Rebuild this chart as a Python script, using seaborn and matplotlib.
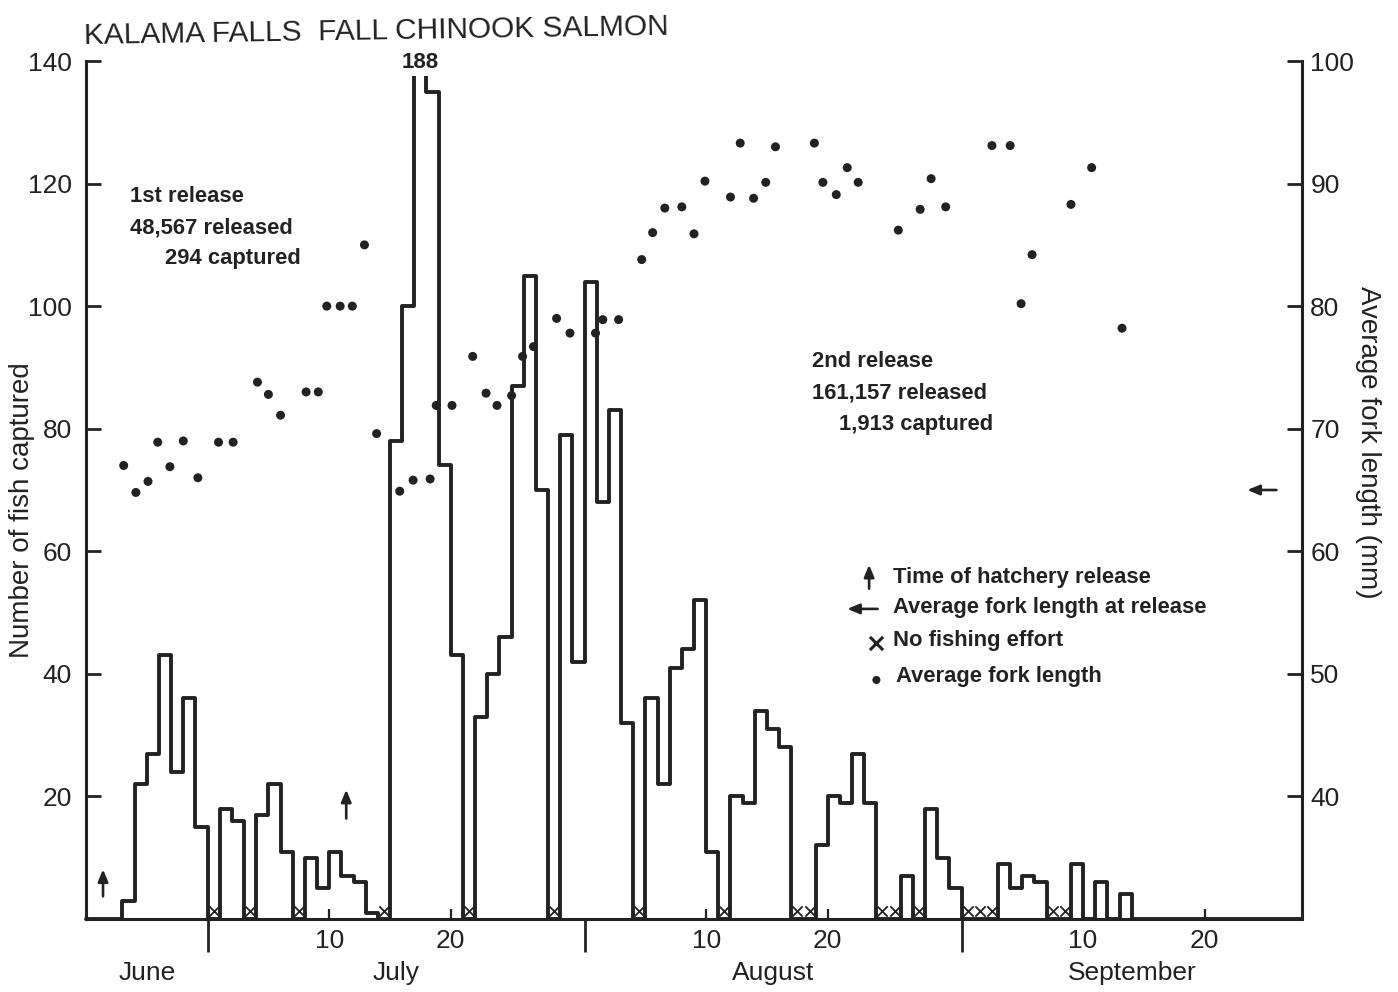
import numpy as np
import pandas as pd
import matplotlib
matplotlib.use("Agg")
import matplotlib.pyplot as plt
from matplotlib.patches import Rectangle
import seaborn as sns

# ---------------- data ----------------
# day numbering: June 1 = 1, July 1 = 31, August 1 = 62, September 1 = 93
catch_days = list(range(20, 120))
catch_counts = [0, 0, 0, 3, 22, 27, 43, 24, 36, 15,
                0, 18, 16, 0, 17, 22, 11, 0, 10, 5,
                11, 7, 6, 1, 0, 78, 100, 188, 135, 74,
                43, 0, 33, 40, 46, 87, 105, 70, 0, 79,
                42, 104, 68, 83, 32, 0, 36, 22, 41, 44,
                52, 11, 0, 20, 19, 34, 31, 28, 0, 0,
                12, 20, 19, 27, 19, 0, 0, 7, 0, 18,
                10, 5, 0, 0, 0, 9, 5, 7, 6, 0,
                0, 9, 0, 6, 0, 4, 0, 0, 0, 0,
                0, 0, 0, 0, 0, 0, 0, 0, 0, 0]
no_effort_days = [30, 33, 37, 44, 51, 58, 65, 72, 78, 79, 85, 86, 88, 92, 93, 94, 99, 100]

length_days = [23.1, 24.1, 25.1, 25.9, 26.9, 28.0, 29.2, 30.9, 32.1, 34.1, 35.0, 36.0,
               38.1, 39.1, 39.8, 40.9, 41.9, 42.9, 43.9, 45.8, 46.9, 48.3, 48.8, 50.1,
               51.8, 52.9, 53.8, 55.0, 55.9, 56.8, 58.7, 59.8, 61.9, 62.5, 63.8, 65.7,
               66.6, 67.6, 69.0, 70.0, 70.9, 73.0, 73.8, 74.9, 75.9, 76.7, 79.9, 80.6,
               81.7, 82.6, 83.5, 86.8, 88.6, 89.5, 90.7, 94.5, 96.0, 96.9, 97.8, 101.0,
               102.7, 105.2]
length_mm = [67.0, 64.8, 65.7, 68.9, 66.9, 69.0, 66.0, 68.9, 68.9, 73.8, 72.8, 71.1,
             73.0, 73.0, 80.0, 80.0, 80.0, 85.0, 69.6, 64.9, 65.8, 65.9, 71.9, 71.9,
             75.9, 72.9, 71.9, 72.7, 75.9, 76.7, 79.0, 77.8, 77.8, 78.9, 78.9, 83.8,
             86.0, 88.0, 88.1, 85.9, 90.2, 88.9, 93.3, 88.8, 90.1, 93.0, 93.3, 90.1,
             89.1, 91.3, 90.1, 86.2, 87.9, 90.4, 88.1, 93.1, 93.1, 80.2, 84.2, 88.3,
             91.3, 78.2]

release_days = [21.4, 41.4]
release_length_mm = 65

month_names = ["June", "July", "August", "September"]
month_bounds = [30, 61, 92]
day_ticks = [40, 50, 71, 81, 102, 112]
day_tick_labels = ["10", "20", "10", "20", "10", "20"]

title = "KALAMA FALLS  FALL CHINOOK SALMON"
release1_text = ["1st release", "48,567 released", "294 captured"]
release2_text = ["2nd release", "161,157 released", "1,913 captured"]
legend_text = ["Time of hatchery release", "Average fork length at release",
               "No fishing effort", "Average fork length"]

# ---------------- style ----------------
sns.set_theme(style="ticks")
plt.rcParams['font.family'] = ['Liberation Sans', 'DejaVu Sans']
ink = '#222222'
X0, X1 = 20, 120
CLIP_TOP = 137.5

fig = plt.figure(figsize=(13.98, 9.92), dpi=100)
fig.patch.set_facecolor('white')
ax = fig.add_axes([86 / 1398, 1 - 919 / 992, 1216 / 1398, 858 / 992])
ax2 = ax.twinx()

# histogram outline
catch_df = pd.DataFrame({"day": catch_days, "count": catch_counts})
sns.histplot(data=catch_df, x="day", weights="count", bins=X1 - X0, binrange=(X0, X1),
             element="step", fill=False, color=ink, linewidth=2.8, ax=ax)
step_line = ax.lines[-1]
step_line.set_clip_path(Rectangle((X0 - 1, -10), X1 - X0 + 2, CLIP_TOP + 10,
                                  transform=ax.transData))
ax.text(47.5, 139.8, "188", ha="center", va="center", fontsize=16,
        fontweight="bold", color=ink)

# no fishing effort markers
nofish_df = pd.DataFrame({"day": np.array(no_effort_days) + 0.5,
                          "y": np.full(len(no_effort_days), 1.3)})
sns.scatterplot(data=nofish_df, x="day", y="y", marker="x", s=55, color=ink,
                linewidth=1.3, ax=ax, legend=False, zorder=4, clip_on=False)

# average fork length dots
len_df = pd.DataFrame({"day": length_days, "mm": length_mm})
sns.scatterplot(data=len_df, x="day", y="mm", s=42, color=ink, edgecolor="none",
                ax=ax2, legend=False, zorder=5)

# release arrows
arrow_kw = dict(arrowstyle="-|>,head_length=0.6,head_width=0.25",
                lw=1.9, color=ink, shrinkA=0, shrinkB=0)
release_spans = [(3.7, 8.1), (16.4, 21.1)]
for d, (ya, yb) in zip(release_days, release_spans):
    ax.annotate("", xy=(d, yb), xytext=(d, ya), arrowprops=arrow_kw)
ax2.annotate("", xy=(115.5, release_length_mm), xytext=(117.9, release_length_mm),
             arrowprops=arrow_kw)

# axes limits & ticks
ax.set_xlim(X0, X1)
ax.set_ylim(0, 140)
ax2.set_ylim(30, 100)
ax.set_xlabel("")
ax.set_ylabel("")
ax2.set_ylabel("")
ax2.set_xlabel("")

ax.set_yticks(range(20, 141, 20))
ax.tick_params(axis="y", direction="in", length=10.5, width=2, labelsize=19,
               pad=10, colors=ink, left=True, right=False)
ax2.set_yticks(range(40, 101, 10))
ax2.tick_params(axis="y", direction="in", length=10.5, width=2, labelsize=19,
                pad=6, colors=ink)
ax.set_xticks(day_ticks)
ax.set_xticklabels(day_tick_labels)
ax.tick_params(axis="x", which="major", direction="in", length=7, width=1.6,
               labelsize=19, pad=7, colors=ink)
ax.set_xticks(month_bounds, minor=True)
ax.tick_params(axis="x", which="minor", direction="out", length=24, width=2, colors=ink)

for s in ["top", "right"]:
    ax.spines[s].set_visible(False)
for s in ["top", "left", "bottom"]:
    ax2.spines[s].set_visible(False)
for s in ["left", "bottom"]:
    ax.spines[s].set_linewidth(2.2)
    ax.spines[s].set_color(ink)
ax2.spines["right"].set_linewidth(2.2)
ax2.spines["right"].set_color(ink)

# month names
edges = [X0] + month_bounds + [X1]
for name, a, b in zip(month_names, edges[:-1], edges[1:]):
    ax.text((a + b) / 2, -0.063, name, transform=ax.get_xaxis_transform(),
            ha="center", va="center", fontsize=19, color=ink)

# titles and axis labels
fig.text(84 / 1398, 1 - 31 / 992, title, fontsize=21.5, ha="left", va="center",
         rotation=0.9, color=ink)
fig.text(22 / 1398, 1 - 510 / 992, "Number of fish captured", rotation=90,
         fontsize=20, ha="center", va="center", color=ink)
fig.text(1368 / 1398, 1 - 442 / 992, "Average fork length (mm)", rotation=-90,
         fontsize=20, ha="center", va="center", color=ink)

# release annotations
tkw = dict(fontsize=15.8, fontweight="bold", color=ink, va="center", ha="left")
ax.text(23.6, 117.9, release1_text[0], **tkw)
ax.text(23.6, 112.8, release1_text[1], **tkw)
ax.text(26.5, 107.7, release1_text[2], **tkw)
ax.text(79.7, 90.9, release2_text[0], **tkw)
ax.text(79.7, 85.8, release2_text[1], **tkw)
ax.text(81.9, 80.7, release2_text[2], **tkw)

# in-plot legend
ax.annotate("", xy=(84.4, 57.8), xytext=(84.4, 53.9), arrowprops=arrow_kw)
ax.annotate("", xy=(82.6, 50.6), xytext=(85.1, 50.6), arrowprops=arrow_kw)
ax.scatter([85.0], [45.0], marker="x", s=90, color=ink, linewidths=2.2)
ax.scatter([85.0], [39.0], marker="o", s=34, color=ink, edgecolors="none")
ax.text(86.4, 55.8, legend_text[0], **tkw)
ax.text(86.4, 50.8, legend_text[1], **tkw)
ax.text(86.4, 45.4, legend_text[2], **tkw)
ax.text(86.65, 39.6, legend_text[3], **tkw)

fig.savefig("out.png", dpi=100, facecolor="white")
